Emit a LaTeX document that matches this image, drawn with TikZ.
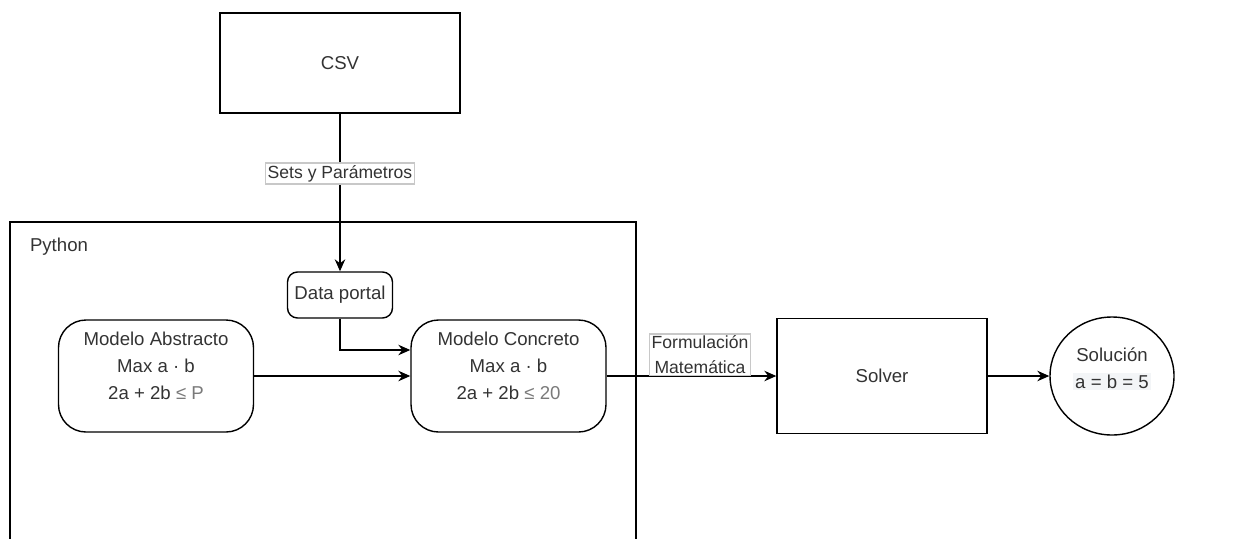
\documentclass[tikz,border=0pt]{standalone}
\usepackage{fontspec}
\setmainfont{Liberation Sans}
\usetikzlibrary{
    positioning,
    arrows.meta,
    shapes.geometric
}
\definecolor{texto}{HTML}{333333}
\definecolor{tenue}{HTML}{7A7A7A}
\definecolor{bordeetq}{HTML}{C8C8C8}
\definecolor{resalte}{HTML}{F3F5F7}
\setlength{\fboxsep}{1pt}
\newcommand{\fuentenodo}{\fontsize{10.6}{15.4}\selectfont}
\newcommand{\fuenteetq}{\fontsize{10}{13.7}\selectfont}
\tikzset{
    >={Stealth[length=2.4mm, width=2.1mm]},
    caja/.style={
        draw,
        line width=0.8pt,
        text=texto,
        font=\fuentenodo,
        align=center
    },
    redondeada/.style={
        caja,
        rounded corners=5.5mm,
        minimum width=3.9cm,
        minimum height=2.24cm
    },
    etiqueta/.style={
        draw=bordeetq,
        fill=white,
        text=texto,
        font=\fuenteetq,
        inner sep=1.2pt,
        align=center
    },
    flecha/.style={
        ->,
        line width=0.8pt
    }
}

\begin{document}
\begin{tikzpicture}
    \useasboundingbox (0,0) rectangle (24.8,-10.76);

    % Contenedor
    \draw[line width=0.8pt] (0.2,-10.9) |- (12.72,-4.44) -- (12.72,-10.9);
    \node[text=texto, font=\fuentenodo] (python) at (1.18,-4.94) {Python};

    % Datos
    \node[caja, minimum width=4.8cm, minimum height=2cm]     (csv)    at (6.8,-1.26) {CSV};
    \node[caja, rounded corners=2mm, inner sep=1pt,
          minimum width=2.1cm, minimum height=0.92cm]         (portal) at (6.8,-5.9)  {Data portal};

    % Modelos
    \node[redondeada] (abstracto) at (3.12,-7.52)
        {Modelo Abstracto\\Max a · b\\2a + 2b {\color{tenue}≤ P}\\[-4pt]\mbox{}};
    \node[redondeada] (concreto)  at (10.17,-7.52)
        {Modelo Concreto\\Max a · b\\2a + 2b {\color{tenue}≤ 20}\\[-4pt]\mbox{}};

    % Resolucion
    \node[caja, minimum width=4.2cm, minimum height=2.3cm] (solver) at (17.64,-7.52) {Solver};
    \node[caja, ellipse, inner sep=0pt,
          minimum width=2.48cm, minimum height=2.36cm]       (solucion) at (22.24,-7.52)
        {Solución\\\colorbox{resalte}{a = b = 5}\\[-6pt]\mbox{}};

    % Conexiones
    \draw[flecha] (csv) -- node[etiqueta, pos=0.38] {Sets y Parámetros} (portal);
    \draw[flecha] (portal) |- ([yshift=0.52cm]concreto.west);
    \draw[flecha] (abstracto) -- (concreto);
    \draw[flecha] (concreto) -- node[etiqueta, above, pos=0.55] {Formulación\\Matemática} (solver);
    \draw[flecha] (solver) -- (solucion);

\end{tikzpicture}
\end{document}
